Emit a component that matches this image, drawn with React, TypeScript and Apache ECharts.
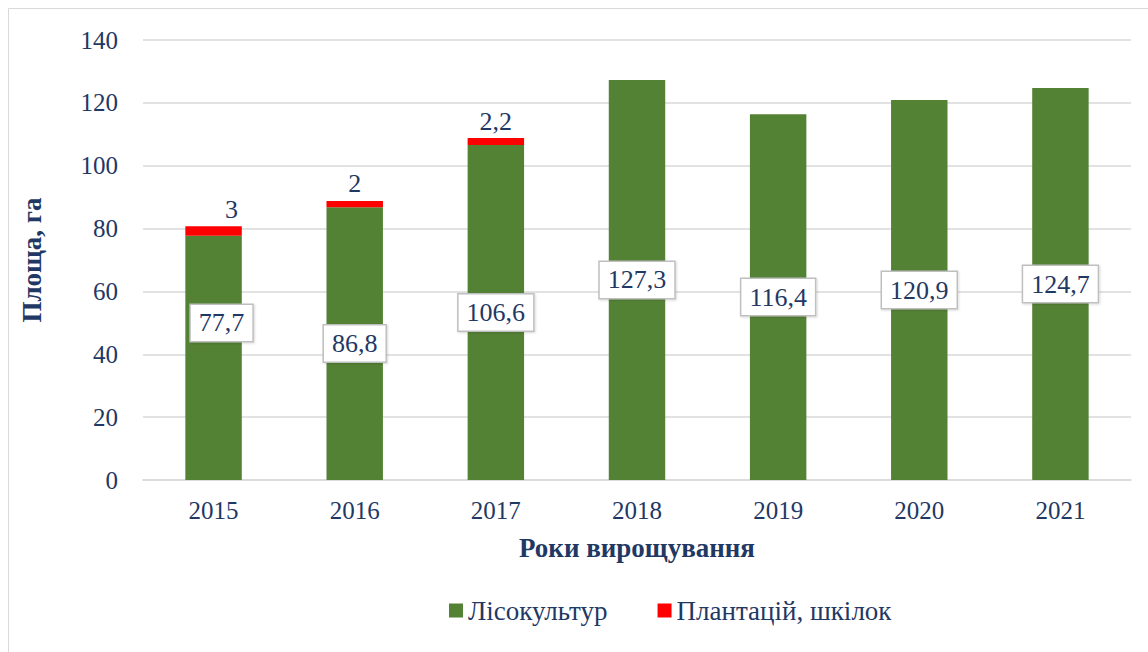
import React, { useEffect, useRef } from "react";
import * as echarts from "echarts";

const years = ["2015", "2016", "2017", "2018", "2019", "2020", "2021"];
const forestCrops = [77.7, 86.8, 106.6, 127.3, 116.4, 120.9, 124.7];
const plantations: (number | null)[] = [3, 2, 2.2, null, null, null, null];
const yTicks = { min: 0, max: 140, interval: 20 };

const NAVY = "#1F3864";
const FONT = "Times New Roman, Liberation Serif, DejaVu Serif, serif";
const fmt = (v: number) => String(v).replace(".", ",");

export default function App() {
  const ref = useRef<HTMLDivElement>(null);
  useEffect(() => {
    document.body.style.margin = "0";
    const chart = echarts.init(ref.current!, null, { renderer: "svg" });
    const greenOffsets: Record<number, number[]> = { 0: [8, -35] };
    const redOffsets: Record<number, number[]> = { 0: [18, 0] };
    chart.setOption({
      animation: false,
      textStyle: { fontFamily: FONT },
      graphic: [
        {
          type: "rect",
          shape: { x: 8.5, y: 8.5, width: 1200, height: 700 },
          style: { fill: "none", stroke: "#D9D9D9", lineWidth: 1 },
          silent: true,
          z: -10,
        },
      ],
      grid: { left: 143, right: 17, top: 40, bottom: 172 },
      legend: {
        bottom: 23,
        left: 444,
        itemWidth: 14,
        itemHeight: 14,
        itemGap: 50,
        icon: "rect",
        textStyle: { fontSize: 27, color: NAVY, fontFamily: FONT },
        data: ["Лісокультур", "Плантацій, шкілок"],
      },
      xAxis: {
        type: "category",
        data: years,
        name: "Роки вирощування",
        nameLocation: "middle",
        nameGap: 54,
        nameTextStyle: { fontSize: 27, fontWeight: "bold", color: NAVY, fontFamily: FONT },
        axisLine: { lineStyle: { color: "#D9D9D9", width: 1.5 } },
        axisTick: { show: false },
        axisLabel: { fontSize: 25, color: NAVY, margin: 18, fontFamily: FONT },
      },
      yAxis: {
        type: "value",
        min: yTicks.min,
        max: yTicks.max,
        interval: yTicks.interval,
        name: "Площа, га",
        nameLocation: "middle",
        nameGap: 98,
        nameTextStyle: { fontSize: 27, fontWeight: "bold", color: NAVY, fontFamily: FONT },
        axisLine: { show: false },
        axisTick: { show: false },
        splitLine: { lineStyle: { color: "#D9D9D9", width: 1.5 } },
        axisLabel: { fontSize: 25, color: NAVY, margin: 25, fontFamily: FONT },
      },
      series: [
        {
          name: "Лісокультур",
          type: "bar",
          stack: "total",
          barWidth: "40%",
          itemStyle: { color: "#548235" },
          label: {
            show: true,
            position: "inside",
            formatter: (p: any) => fmt(p.value),
            fontSize: 26,
            color: NAVY,
            fontFamily: FONT,
            backgroundColor: "#FFFFFF",
            borderColor: "#BFBFBF",
            borderWidth: 1.5,
            padding: [6, 8, 4, 8],
            shadowColor: "rgba(0,0,0,0.15)",
            shadowBlur: 2,
            shadowOffsetX: 1,
            shadowOffsetY: 1,
          },
          data: forestCrops.map((v, i) =>
            greenOffsets[i] ? { value: v, label: { offset: greenOffsets[i] } } : v
          ),
        },
        {
          name: "Плантацій, шкілок",
          type: "bar",
          stack: "total",
          barWidth: "40%",
          itemStyle: { color: "#FF0000" },
          label: {
            show: true,
            position: "top",
            distance: 4,
            formatter: (p: any) => (p.value == null ? "" : fmt(p.value)),
            fontSize: 26,
            color: NAVY,
            fontFamily: FONT,
          },
          data: plantations.map((v, i) =>
            redOffsets[i] ? { value: v, label: { offset: redOffsets[i] } } : v
          ),
        },
      ],
    });
    return () => chart.dispose();
  }, []);
  return <div ref={ref} style={{ width: 1148, height: 652 }} />;
}
